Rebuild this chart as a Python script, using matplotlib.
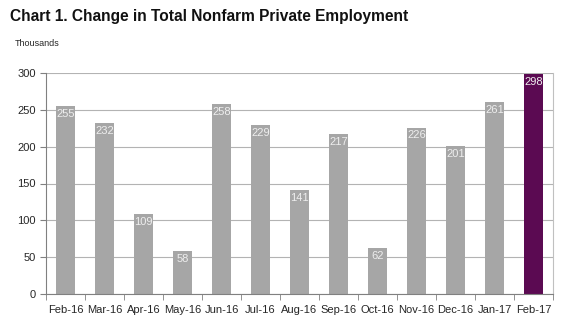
import numpy as np
import matplotlib.pyplot as plt

# Monthly change in private payrolls (thousands)
months = ["Feb-16", "Mar-16", "Apr-16", "May-16", "Jun-16", "Jul-16", "Aug-16",
          "Sep-16", "Oct-16", "Nov-16", "Dec-16", "Jan-17", "Feb-17"]
changes = [255, 232, 109, 58, 258, 229, 141, 217, 62, 226, 201, 261, 298]
yticks = [0, 50, 100, 150, 200, 250, 300]

plt.rcParams['font.family'] = ['Liberation Sans', 'DejaVu Sans']

fig = plt.figure(figsize=(5.76, 3.25), dpi=100)
ax = fig.add_axes([46 / 576, 1 - 294 / 325, (553 - 46) / 576, (294 - 73) / 325])

x = np.arange(len(months))
colors = ["#a6a6a6"] * (len(months) - 1) + ["#5b0a52"]
ax.bar(x, changes, width=0.49, color=colors, zorder=2)

for xi, v in zip(x, changes):
    ax.text(xi, v - 4, str(v), ha="center", va="top", fontsize=8, color="#eeeeee", zorder=3)

ax.set_xlim(-0.5, len(months) - 0.5)
ax.set_ylim(0, 300)
ax.set_yticks(yticks)
ax.yaxis.grid(True, color="#b3b3b3", linewidth=0.8, zorder=0)
ax.set_axisbelow(True)

ax.set_xticks(x)
ax.set_xticklabels(months)
ax.set_xticks(np.arange(-0.5, len(months)), minor=True)
ax.tick_params(axis="x", which="major", length=0, labelsize=8, labelcolor="#262626", pad=8)
ax.tick_params(axis="x", which="minor", length=4, color="#808080", direction="out")
ax.tick_params(axis="y", length=4, color="#808080", labelsize=8, labelcolor="#262626")

for side in ["left", "bottom"]:
    ax.spines[side].set_color("#808080")
    ax.spines[side].set_linewidth(0.8)
ax.spines["top"].set_visible(False)
ax.spines["right"].set_color("#c0c0c0")
ax.spines["right"].set_linewidth(0.8)

fig.text(10 / 576, 1 - 16 / 325, "Chart 1. Change in Total Nonfarm Private Employment",
         fontsize=11.2, fontweight="bold", ha="left", va="center", color="#111111")
fig.text(15 / 576, 1 - 44 / 325, "Thousands", fontsize=6.5, ha="left", va="center", color="#262626")

plt.savefig("out.png", dpi=100)
